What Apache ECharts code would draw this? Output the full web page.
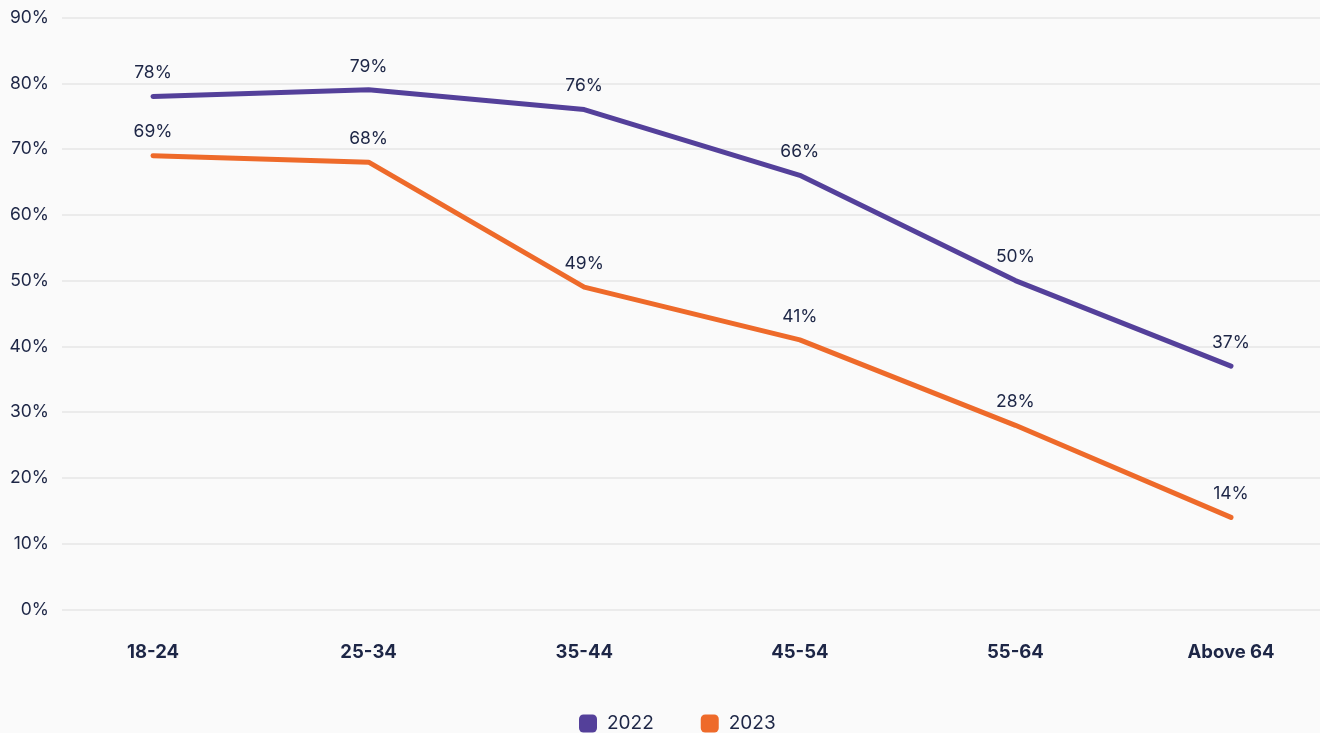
<!DOCTYPE html>
<html>
<head>
<meta charset="utf-8">
<script src="https://cdn.jsdelivr.net/npm/echarts@6/dist/echarts.min.js"></script>
<style>
  html, body { margin: 0; padding: 0; background: #fafafa; }
  #main { width: 1320px; height: 733px; }
</style>
</head>
<body>
<div id="main"></div>
<script>
const ageGroups = ['18-24', '25-34', '35-44', '45-54', '55-64', 'Above 64'];
const share2022 = [78, 79, 76, 66, 50, 37];
const share2023 = [69, 68, 49, 41, 28, 14];

const textColor = '#1d2646';
const fontFamily = 'Inter, "Noto Sans", sans-serif';

const myChart = echarts.init(document.getElementById('main'));

let option;

function lineSeries(name, data, color) {
    return {
        name: name,
        type: 'line',
        xAxisIndex: 1,
        yAxisIndex: 1,
        data: data,
        symbol: 'circle',
        symbolSize: 1,
        itemStyle: {color: color},
        lineStyle: {width: 5, cap: 'round', join: 'round'},
        label: {
            show: true,
            position: 'top',
            distance: 14,
            color: textColor,
            fontSize: 17.5,
            fontFamily: fontFamily,
            formatter: '{c}%'
        }
    };
}

option = {
    backgroundColor: '#fafafa',
    textStyle: {fontFamily: fontFamily},
    grid: [
        // full-width grid only for y labels and gridlines
        {left: 62, right: 0, top: 17.5, bottom: 123.5},
        // grid holding the lines
        {left: 153, right: 89, top: 17.5, bottom: 123.5}
    ],
    legend: {
        top: 709,
        left: 574,
        itemWidth: 18,
        itemHeight: 18,
        itemGap: 47,
        icon: 'roundRect',
        textStyle: {color: textColor, fontSize: 19, fontFamily: fontFamily, padding: [0, 0, 0, 5]},
        data: ['2022', '2023']
    },
    xAxis: [
        {gridIndex: 0, type: 'value', show: false, min: 0, max: 1},
        {
            gridIndex: 1,
            type: 'category',
            data: ageGroups,
            boundaryGap: false,
            axisLine: {show: false},
            axisTick: {show: false},
            axisLabel: {
                color: textColor,
                fontSize: 18.5,
                fontWeight: 'bold',
                margin: 33,
                fontFamily: fontFamily
            }
        }
    ],
    yAxis: [
        {
            gridIndex: 0,
            type: 'value',
            min: 0,
            max: 90,
            interval: 10,
            axisLine: {show: false},
            axisTick: {show: false},
            axisLabel: {
                color: textColor,
                fontSize: 17.5,
                margin: 13,
                formatter: '{value}%',
                fontFamily: fontFamily
            },
            splitLine: {lineStyle: {color: '#ebebeb', width: 2}}
        },
        {
            gridIndex: 1,
            type: 'value',
            min: 0,
            max: 90,
            interval: 10,
            show: false,
            splitLine: {show: false}
        }
    ],
    series: [
        lineSeries('2022', share2022, '#54409a'),
        lineSeries('2023', share2023, '#ee6a2a')
    ]
};

myChart.setOption(option);
</script>
</body>
</html>
